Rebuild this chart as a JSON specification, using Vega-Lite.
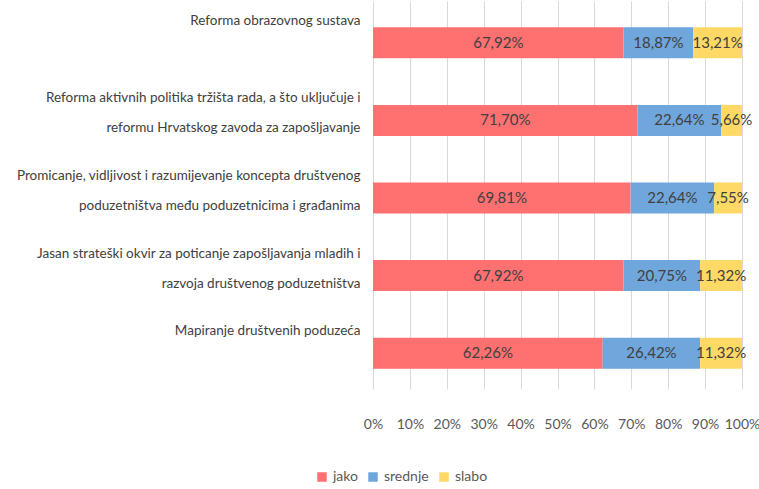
{
  "$schema": "https://vega.github.io/schema/vega-lite/v6.json",
  "width": 369,
  "height": 388,
  "autosize": {"type": "none"},
  "padding": {"left": 373, "top": 1, "right": 17, "bottom": 100},
  "config": {
    "locale": {"number": {"decimal": ",", "thousands": ".", "grouping": [3], "currency": ["", " kn"]}},
    "view": {"stroke": null},
    "font": "Lato"
  },
  "data": {
    "values": [
      {"kategorija": "Reforma obrazovnog sustava", "ocjena": "jako", "r": 1, "udio": 0.6792},
      {"kategorija": "Reforma obrazovnog sustava", "ocjena": "srednje", "r": 2, "udio": 0.1887},
      {"kategorija": "Reforma obrazovnog sustava", "ocjena": "slabo", "r": 3, "udio": 0.1321},
      {"kategorija": "Reforma aktivnih politika tržišta rada, a što uključuje i|reformu Hrvatskog zavoda za zapošljavanje", "ocjena": "jako", "r": 1, "udio": 0.7170},
      {"kategorija": "Reforma aktivnih politika tržišta rada, a što uključuje i|reformu Hrvatskog zavoda za zapošljavanje", "ocjena": "srednje", "r": 2, "udio": 0.2264},
      {"kategorija": "Reforma aktivnih politika tržišta rada, a što uključuje i|reformu Hrvatskog zavoda za zapošljavanje", "ocjena": "slabo", "r": 3, "udio": 0.0566},
      {"kategorija": "Promicanje, vidljivost i razumijevanje koncepta društvenog|poduzetništva među poduzetnicima i građanima", "ocjena": "jako", "r": 1, "udio": 0.6981},
      {"kategorija": "Promicanje, vidljivost i razumijevanje koncepta društvenog|poduzetništva među poduzetnicima i građanima", "ocjena": "srednje", "r": 2, "udio": 0.2264},
      {"kategorija": "Promicanje, vidljivost i razumijevanje koncepta društvenog|poduzetništva među poduzetnicima i građanima", "ocjena": "slabo", "r": 3, "udio": 0.0755},
      {"kategorija": "Jasan strateški okvir za poticanje zapošljavanja mladih i|razvoja društvenog poduzetništva", "ocjena": "jako", "r": 1, "udio": 0.6792},
      {"kategorija": "Jasan strateški okvir za poticanje zapošljavanja mladih i|razvoja društvenog poduzetništva", "ocjena": "srednje", "r": 2, "udio": 0.2075},
      {"kategorija": "Jasan strateški okvir za poticanje zapošljavanja mladih i|razvoja društvenog poduzetništva", "ocjena": "slabo", "r": 3, "udio": 0.1132},
      {"kategorija": "Mapiranje društvenih poduzeća", "ocjena": "jako", "r": 1, "udio": 0.6226},
      {"kategorija": "Mapiranje društvenih poduzeća", "ocjena": "srednje", "r": 2, "udio": 0.2642},
      {"kategorija": "Mapiranje društvenih poduzeća", "ocjena": "slabo", "r": 3, "udio": 0.1132}
    ]
  },
  "transform": [
    {"stack": "udio", "groupby": ["kategorija"], "sort": [{"field": "r", "order": "ascending"}], "as": ["x0", "x1"]},
    {"calculate": "(datum.x0 + datum.x1) / 2", "as": "mid"}
  ],
  "encoding": {
    "y": {
      "field": "kategorija",
      "type": "nominal",
      "sort": null,
      "title": null,
      "scale": {"paddingInner": 0.6, "paddingOuter": 0.3},
      "axis": {
        "domain": false,
        "ticks": false,
        "grid": false,
        "labelPadding": 13,
        "labelFontSize": 13.5,
        "labelColor": "#404040",
        "labelLineHeight": 30,
        "labelOffset": -19,
        "labelLimit": 0,
        "labelExpr": "split(datum.label, '|')"
      }
    }
  },
  "layer": [
    {
      "mark": {"type": "bar", "yOffset": 3},
      "encoding": {
        "x": {
          "field": "x0",
          "type": "quantitative",
          "scale": {"domain": [0, 1]},
          "title": null,
          "axis": {
            "values": [0, 0.1, 0.2, 0.3, 0.4, 0.5, 0.6, 0.7, 0.8, 0.9, 1],
            "format": ".0%",
            "domain": false,
            "ticks": false,
            "grid": true,
            "gridColor": "#D9D9D9",
            "labelFlush": false,
            "labelOverlap": false,
            "labelPadding": 28,
            "labelFontSize": 14,
            "labelColor": "#595959"
          }
        },
        "x2": {"field": "x1"},
        "color": {
          "field": "ocjena",
          "type": "nominal",
          "sort": ["jako", "srednje", "slabo"],
          "scale": {"domain": ["jako", "srednje", "slabo"], "range": ["#FF7171", "#6FA6DC", "#FFD966"]},
          "legend": {
            "title": null,
            "orient": "none",
            "direction": "horizontal",
            "legendX": -58,
            "legendY": 469,
            "symbolType": "square",
            "symbolSize": 90,
            "symbolStrokeWidth": 0,
            "labelFontSize": 14,
            "labelOffset": 4,
            "labelColor": "#595959",
            "columnPadding": 8
          }
        }
      }
    },
    {
      "mark": {"type": "text", "yOffset": 3, "fontSize": 15, "color": "#404040"},
      "encoding": {
        "x": {
          "field": "mid",
          "type": "quantitative",
          "title": null,
          "axis": {
            "values": [0, 0.1, 0.2, 0.3, 0.4, 0.5, 0.6, 0.7, 0.8, 0.9, 1],
            "format": ".0%",
            "domain": false,
            "ticks": false,
            "grid": true,
            "gridColor": "#D9D9D9",
            "labelFlush": false,
            "labelOverlap": false,
            "labelPadding": 28,
            "labelFontSize": 14,
            "labelColor": "#595959"
          }
        },
        "text": {"field": "udio", "type": "quantitative", "format": ".2%"}
      }
    }
  ]
}
